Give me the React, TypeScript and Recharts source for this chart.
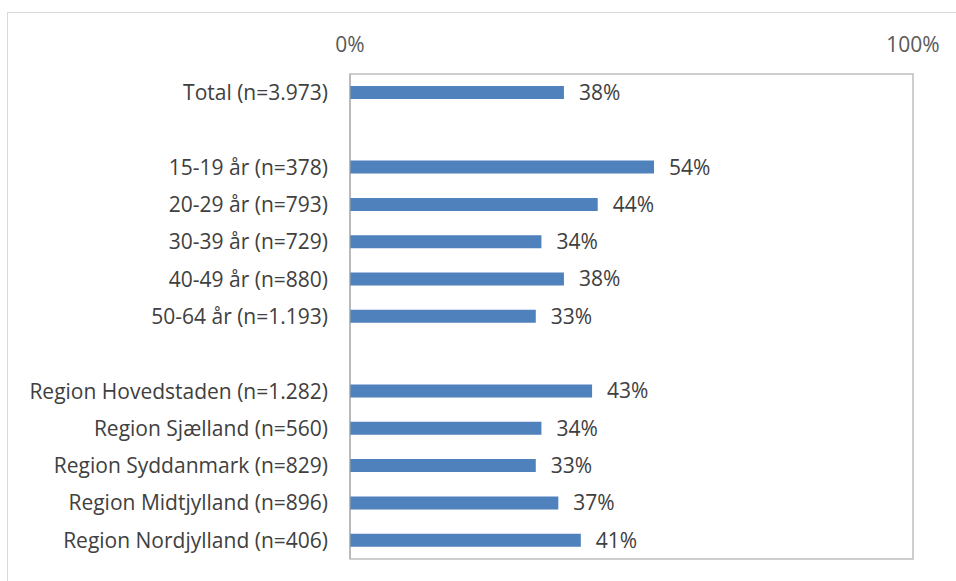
import React from "react";
import { Bar, BarChart, LabelList, ReferenceArea, XAxis, YAxis } from "recharts";

const categories = [
  "Total (n=3.973)",
  " ",
  "15-19 år (n=378)",
  "20-29 år (n=793)",
  "30-39 år (n=729)",
  "40-49 år (n=880)",
  "50-64 år (n=1.193)",
  "  ",
  "Region Hovedstaden (n=1.282)",
  "Region Sjælland (n=560)",
  "Region Syddanmark (n=829)",
  "Region Midtjylland (n=896)",
  "Region Nordjylland (n=406)",
];

const values: (number | null)[] = [38, null, 54, 44, 34, 38, 33, null, 43, 34, 33, 37, 41];

const xTicks = [0, 100];

const data = categories.map((name, i) => ({ name, value: values[i] }));

const FONT = "'Open Sans', sans-serif";
const SIZE = 21;

function TopTick({ x, payload }: any) {
  return (
    <text x={x} y={44} textAnchor="middle" dominantBaseline="central" fill="#595959" fontSize={SIZE} fontFamily={FONT}>
      {payload.value}%
    </text>
  );
}

export default function App() {
  return (
    <div style={{ position: "absolute", left: 0, top: 0, width: 956, height: 581, background: "#fff", overflow: "hidden" }}>
      <div
        style={{
          position: "absolute",
          left: 7,
          top: 12,
          width: 1000,
          height: 700,
          border: "1px solid #D9D9D9",
        }}
      />
      <BarChart
        width={956}
        height={581}
        data={data}
        layout="vertical"
        margin={{ top: 44, right: 43, left: 0, bottom: 22 }}
        barCategoryGap={0}
      >
        <XAxis
          type="number"
          orientation="top"
          domain={[0, 100]}
          ticks={xTicks}
          height={30}
          axisLine={false}
          tickLine={false}
          tick={<TopTick />}
        />
        <YAxis
          type="category"
          dataKey="name"
          width={350}
          axisLine={{ stroke: "#A6A6A6" }}
          tickLine={false}
          tickMargin={16}
          interval={0}
          tick={{ fill: "#404040", fontSize: SIZE, fontFamily: FONT }}
        />
        <ReferenceArea x1={0} x2={100} fill="none" stroke="#BFBFBF" strokeWidth={1.5} ifOverflow="visible" />
        <Bar dataKey="value" fill="#4F81BD" barSize={13} isAnimationActive={false}>
          <LabelList
            dataKey="value"
            position="right"
            offset={15}
            formatter={(v: any) => (v == null ? "" : `${v}%`)}
            fill="#404040"
            fontSize={SIZE}
            fontFamily={FONT}
          />
        </Bar>
      </BarChart>
    </div>
  );
}
